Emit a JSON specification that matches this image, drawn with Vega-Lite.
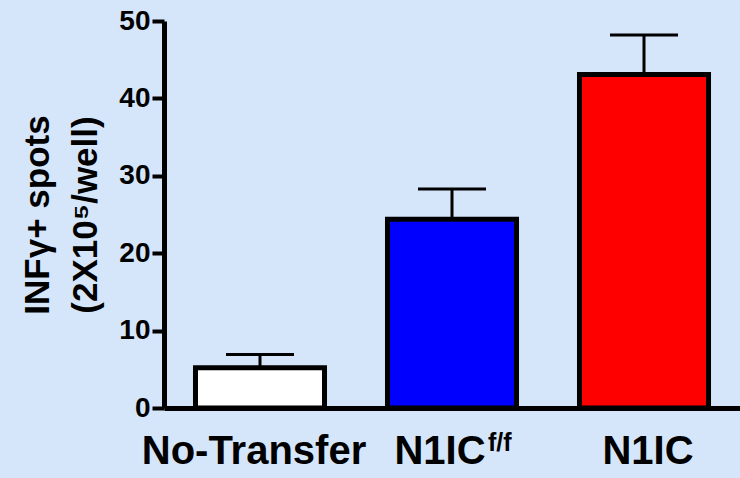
{
  "$schema": "https://vega.github.io/schema/vega-lite/v6.json",
  "width": 576,
  "height": 387,
  "autosize": {"type": "none"},
  "padding": {"left": 164, "top": 21, "right": 0, "bottom": 70},
  "background": "#d5e6fa",
  "config": {"view": {"stroke": null}, "font": "Liberation Sans"},
  "data": {
    "values": [
      {"group": "No-Transfer", "mean": 5.2, "upper": 6.9},
      {"group": "N1IC f/f", "mean": 24.4, "upper": 28.3},
      {"group": "N1IC", "mean": 43.1, "upper": 48.2}
    ]
  },
  "encoding": {
    "x": {
      "field": "group",
      "type": "nominal",
      "sort": null,
      "scale": {"paddingInner": 0.328, "paddingOuter": 0.164},
      "axis": {
        "title": null,
        "ticks": false,
        "tickSize": 0,
        "domainColor": "black",
        "domainWidth": 5,
        "labelFont": "Liberation Sans",
        "labelFontSize": 40,
        "labelFontWeight": "bold",
        "labelColor": "black",
        "labelPadding": 55,
        "labelBaseline": "alphabetic",
        "labelAngle": 0,
        "labelLimit": 0,
        "labelOverlap": false,
        "labelFlush": false,
        "labelOffset": {
          "condition": [
            {"test": "datum.value === 'N1IC f/f'", "value": -12},
            {"test": "datum.value === 'No-Transfer'", "value": -6}
          ],
          "value": 4
        },
        "labelExpr": "datum.value === 'N1IC f/f' ? 'N1IC' : datum.value"
      }
    }
  },
  "layer": [
    {
      "mark": {"type": "rule", "strokeWidth": 3, "color": "black"},
      "encoding": {
        "y": {"field": "mean", "type": "quantitative", "title": ["INFγ+ spots", "(2X10⁵/well)"]},
        "y2": {"field": "upper"}
      }
    },
    {
      "mark": {"type": "tick", "thickness": 3, "size": 68, "color": "black", "opacity": 1},
      "encoding": {
        "y": {"field": "upper", "type": "quantitative", "title": ["INFγ+ spots", "(2X10⁵/well)"]}
      }
    },
    {
      "mark": {"type": "bar", "stroke": "black", "strokeWidth": 5, "fillOpacity": 1},
      "encoding": {
        "y": {
          "field": "mean",
          "type": "quantitative",
          "title": ["INFγ+ spots", "(2X10⁵/well)"],
          "scale": {"domain": [0, 50]},
          "axis": {
            "values": [0, 10, 20, 30, 40, 50],
            "grid": false,
            "domainColor": "black",
            "domainWidth": 5,
            "tickColor": "black",
            "tickWidth": 4,
            "tickSize": 12,
            "labelFont": "Liberation Sans",
            "labelFontSize": 28,
            "labelFontWeight": "bold",
            "labelColor": "black",
            "labelPadding": 2,
            "titleFont": "Liberation Sans",
            "titleFontSize": 35,
            "titleFontWeight": "bold",
            "titleColor": "black",
            "titlePadding": 15,
            "titleLineHeight": 48
          }
        },
        "fill": {
          "field": "group",
          "type": "nominal",
          "scale": {"domain": ["No-Transfer", "N1IC f/f", "N1IC"], "range": ["#ffffff", "#0000ff", "#ff0000"]},
          "legend": null
        }
      }
    },
    {
      "transform": [{"filter": "datum.group === 'N1IC f/f'"}],
      "mark": {"type": "text", "text": "f/f", "dx": 36, "dy": 43, "align": "left", "baseline": "alphabetic", "font": "Liberation Sans", "fontSize": 25, "fontWeight": "bold", "color": "black"},
      "encoding": {"y": {"datum": 0}}
    }
  ]
}
